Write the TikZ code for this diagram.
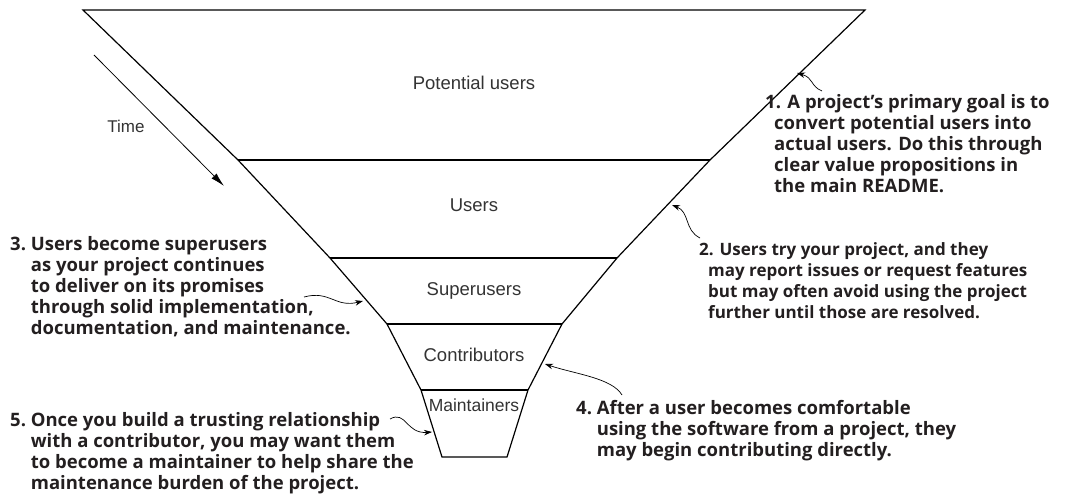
\documentclass[tikz,border=0pt]{standalone}
\usepackage{fontspec}
\usetikzlibrary{arrows.meta}
\newfontfamily\labelfont{Liberation Sans}
\newfontfamily\notefont{Open Sans}
\definecolor{ink}{HTML}{231F20}
\definecolor{labelgray}{HTML}{333333}

\tikzset{
  funnel/.style={line width=1.2pt, line join=miter},
  layer/.style={inner sep=0pt, text=labelgray, font=\labelfont\fontsize{18.5}{22}\selectfont},
  note/.style={anchor=base west, inner sep=0pt, text=ink, font=\notefont\bfseries\fontsize{18.5}{21}\selectfont},
  pointer/.style={-{Stealth[length=8pt,width=5.5pt]}, line width=0.7pt},
}

\begin{document}
\begin{tikzpicture}[x=1pt, y=-1pt, >=Stealth]
    \useasboundingbox (0,0) rectangle (1070,503);

    % Funnel corners, left and right
    \coordinate (L0) at (83,10);   \coordinate (R0) at (865,10);
    \coordinate (L1) at (238,160); \coordinate (R1) at (710,160);
    \coordinate (L2) at (330,258); \coordinate (R2) at (617,258);
    \coordinate (L3) at (387,324); \coordinate (R3) at (562,324);
    \coordinate (L4) at (421,390); \coordinate (R4) at (528,390);
    \coordinate (L5) at (442,457); \coordinate (R5) at (507,457);

    % Funnel outline
    \draw[funnel] (R0) -- (L0) -- (L1) -- (L2) -- (L3) -- (L4) -- (L5)
        -- (R5) -- (R4) -- (R3) -- (R2) -- (R1) -- cycle;
    \foreach \i in {1,...,4} \draw[funnel] (L\i) -- (R\i);

    % Layers
    \node[layer] (potential) at (474,83) {Potential users};
    \node[layer] (users) at (474,205) {Users};
    \node[layer] (super) at (474,291) {Superusers};
    \node[layer] (contrib) at (474,355) {Contributors};
    \node[layer, font=\labelfont\fontsize{17.5}{21}\selectfont] (maint) at (474,405) {Maintainers};

    % Time arrow
    \coordinate (t0) at (94,55);
    \coordinate (t1) at (224,186);
    \draw[-{Latex[length=14pt,width=7pt]}, line width=0.8pt] (t0) -- (t1);
    \node[layer, font=\labelfont\fontsize{17}{20}\selectfont] (time) at (126,126) {Time};

    % Notes
    \node[note] (n1) at (765,108) {\begin{tabular}[t]{@{}l@{}}
        1. A project’s primary goal is to\\
        \hspace*{9pt}convert potential users into\\
        \hspace*{9pt}actual users. Do this through\\
        \hspace*{9pt}clear value propositions in\\
        \hspace*{9pt}the main README.\end{tabular}};
    \node[note, font=\notefont\bfseries\fontsize{17}{21}\selectfont] (n2) at (699,255) {\begin{tabular}[t]{@{}l@{}}
        2. Users try your project, and they\\
        \hspace*{9pt}may report issues or request features\\
        \hspace*{9pt}but may often avoid using the project\\
        \hspace*{9pt}further until those are resolved.\end{tabular}};
    \node[note] (n3) at (10,250) {\begin{tabular}[t]{@{}l@{\ }l@{}}
        3. & Users become superusers\\
           & as your project continues\\
           & to deliver on its promises\\
           & through solid implementation,\\
           & documentation, and maintenance.\end{tabular}};
    \node[note] (n4) at (576,414) {\begin{tabular}[t]{@{}l@{\ }l@{}}
        4. & After a user becomes comfortable\\
           & using the software from a project, they\\
           & may begin contributing directly.\end{tabular}};
    \node[note] (n5) at (10,426) {\begin{tabular}[t]{@{}l@{\ }l@{}}
        5. & Once you build a trusting relationship\\
           & with a contributor, you may want them\\
           & to become a maintainer to help share the\\
           & maintenance burden of the project.\end{tabular}};

    % Pointers from the notes to the funnel
    \coordinate (p1) at (822,91);  \coordinate (h1) at (797,73);
    \coordinate (p2) at (700,238); \coordinate (h2) at (672,205);
    \coordinate (p3) at (304,297); \coordinate (h3) at (363,301);
    \coordinate (p4) at (622,395); \coordinate (h4) at (545,364);
    \coordinate (p5) at (390,419); \coordinate (h5) at (432,432);
    \draw[pointer] (p1) .. controls (810,86) and (814,78) .. (h1);
    \draw[pointer] (p2) .. controls (684,230) and (690,212) .. (h2);
    \draw[pointer] (p3) .. controls (330,290) and (335,308) .. (h3);
    \draw[pointer] (p4) .. controls (612,378) and (575,374) .. (h4);
    \draw[pointer] (p5) .. controls (406,410) and (406,434) .. (h5);
\end{tikzpicture}
\end{document}
